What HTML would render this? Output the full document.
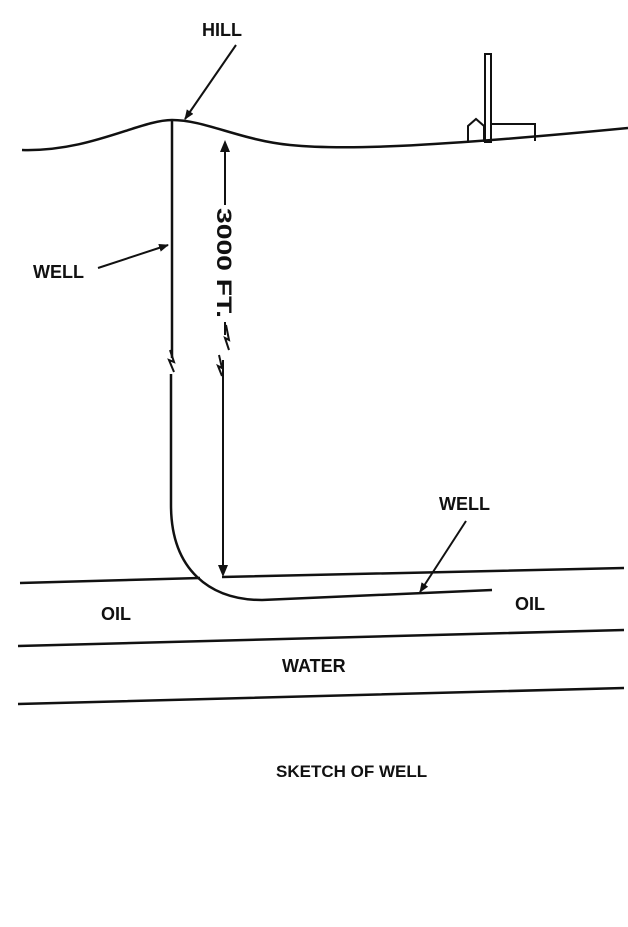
<!DOCTYPE html>
<html><head><style>body{margin:0;background:#fff}svg{display:block}text{font-family:"Liberation Sans",sans-serif;font-weight:bold;fill:#111}</style></head>
<body>
<svg width="628" height="927" viewBox="0 0 628 927" xmlns="http://www.w3.org/2000/svg">
<defs><marker id="a" markerWidth="10" markerHeight="8" refX="9" refY="4" orient="auto" markerUnits="userSpaceOnUse"><path d="M0,0 L10,4 L0,8 z" fill="#111"/></marker></defs>
<g stroke="#111" fill="none" stroke-width="2.5">
<path d="M22,150 C90,152 140,120 172,120 C205,120 240,140 290,145 C340,150 420,148 628,128"/>
<rect x="485" y="54" width="6" height="88" stroke-width="2"/>
<path d="M468,142 V126 L476,119 L484,126 V142" stroke-width="2"/>
<path d="M492,124 H535 V141" stroke-width="2"/>
<path d="M172,121 V358 M171,374 V505 C171,570 210,600 262,600 L492,590"/>
<path d="M170,350 L174,362 L169,360 L174,372" stroke-width="2"/>
<path d="M225,150 V205 M225,322 V335 M223,360 V568" stroke-width="2"/>
<path d="M225,140 L220,152 L230,152 z M223,577 L218,565 L228,565 z" fill="#111" stroke="none"/>
<path d="M226,325 L229,340 L225,338 L229,350" stroke-width="2"/>
<path d="M219,355 L222,368 L218,366 L222,376" stroke-width="2"/>
<path d="M20,583 L200,578 M222,577 L624,568 M18,646 L624,630 M18,704 L624,688"/>
<path d="M236,45 L185,119" stroke-width="2" marker-end="url(#a)"/>
<path d="M98,268 L168,245" stroke-width="2" marker-end="url(#a)"/>
<path d="M466,521 L420,592" stroke-width="2" marker-end="url(#a)"/>
</g>
<text x="202" y="36" font-size="18">HILL</text>
<text x="33" y="278" font-size="18">WELL</text>
<text x="439" y="510" font-size="18">WELL</text>
<text x="101" y="620" font-size="18">OIL</text>
<text x="515" y="610" font-size="18">OIL</text>
<text x="282" y="672" font-size="18">WATER</text>
<text x="276" y="777" font-size="17">SKETCH OF WELL</text>
<text x="0" y="0" font-size="21" textLength="110" lengthAdjust="spacingAndGlyphs" transform="translate(217,208) rotate(90)">3000 FT.</text>
</svg>
</body></html>
